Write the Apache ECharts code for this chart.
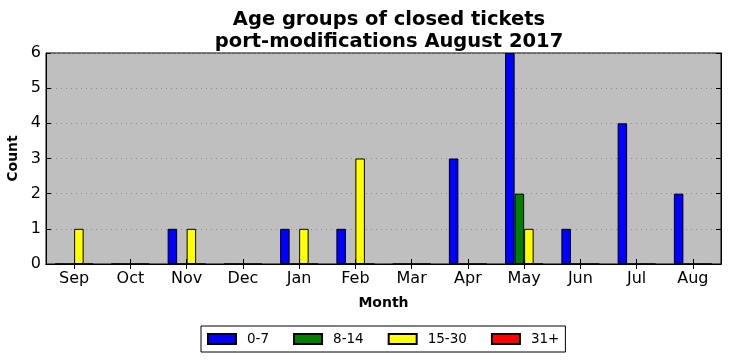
<!DOCTYPE html>
<html><head><meta charset="utf-8">
<script src="https://cdn.jsdelivr.net/npm/echarts@6/dist/echarts.min.js"></script>
<style>html,body{margin:0;padding:0;background:#fff}#c{width:731px;height:361px}</style>
</head><body><div id="c"></div>
<script>
const categories = ['Sep','Oct','Nov','Dec','Jan','Feb','Mar','Apr','May','Jun','Jul','Aug'];
const seriesNames = ['0-7','8-14','15-30','31+'];
const s0_7   = [0,0,1,0,1,1,0,3,6,1,4,2];
const s8_14  = [0,0,0,0,0,0,0,0,2,0,0,0];
const s15_30 = [1,0,1,0,1,3,0,0,1,0,0,0];
const s31    = [0,0,0,0,0,0,0,0,0,0,0,0];
const colors = ['#0000ff','#008000','#ffff00','#ff0000'];
const yTicks = [0,1,2,3,4,5,6];

const font = 'DejaVu Sans';
const chart = echarts.init(document.getElementById('c'));
const data = [s0_7, s8_14, s15_30, s31];
chart.setOption({
  animation: false,
  title: {
    text: 'Age groups of closed tickets\nport-modifications August 2017',
    left: 384, top: 4, textAlign: 'center',
    textStyle: {fontFamily: font, fontSize: 19.5, fontWeight: 'bold', color: '#000', lineHeight: 22}
  },
  grid: {left: 46, right: 10, top: 53, bottom: 97, containLabel: false, outerBoundsMode: 'none',
    backgroundColor: '#bfbfbf', show: true, borderColor: '#000', borderWidth: 1},
  legend: {
    data: seriesNames,
    left: 201, top: 326,
    padding: [6, 6, 6, 6],
    itemGap: 24,
    itemWidth: 28, itemHeight: 10,
    borderColor: '#000', borderWidth: 1,
    textStyle: {fontFamily: font, fontSize: 13.5, color: '#000', padding: [0, 0, 0, 6]},
    icon: 'rect'
  },
  xAxis: [{
    type: 'category', data: categories,
    name: 'Month', nameLocation: 'middle', nameGap: 32,
    nameTextStyle: {fontFamily: font, fontSize: 14, fontWeight: 'bold', color: '#000'},
    axisLine: {show: true, lineStyle: {color: '#000'}},
    axisTick: {show: true, inside: true, alignWithLabel: true, length: 5, lineStyle: {color: '#000'}},
    axisLabel: {fontFamily: font, fontSize: 16, color: '#000', margin: 7},
    splitLine: {show: false}
  }, {
    type: 'category', data: categories, position: 'top',
    axisLine: {show: true, lineStyle: {color: '#000'}},
    axisTick: {show: true, inside: true, alignWithLabel: true, length: 5, lineStyle: {color: '#000'}},
    axisLabel: {show: false}
  }],
  yAxis: [{
    type: 'value', min: 0, max: 6, interval: 1,
    name: 'Count', nameLocation: 'middle', nameGap: 20, nameRotate: 90,
    nameTextStyle: {fontFamily: font, fontSize: 14, fontWeight: 'bold', color: '#000'},
    axisLine: {show: true, lineStyle: {color: '#000'}},
    axisTick: {show: true, inside: true, length: 5, lineStyle: {color: '#000'}},
    axisLabel: {fontFamily: font, fontSize: 16, color: '#000', margin: 5,
      formatter: v => yTicks.includes(v) ? String(v) : ''},
    splitLine: {show: true, lineStyle: {color: '#8c8c8c', type: [1, 4], width: 1}}
  }, {
    type: 'value', min: 0, max: 6, interval: 1, position: 'right',
    axisLine: {show: true, lineStyle: {color: '#000'}},
    axisTick: {show: true, inside: true, length: 5, lineStyle: {color: '#000'}},
    axisLabel: {show: false}, splitLine: {show: false}
  }],
  series: seriesNames.map((n, i) => ({
    name: n, type: 'bar', data: data[i],
    xAxisIndex: 0, yAxisIndex: 0,
    barWidth: 9.5, barGap: '0%',
    itemStyle: {color: colors[i], borderColor: '#000', borderWidth: 1}
  }))
});
</script></body></html>
